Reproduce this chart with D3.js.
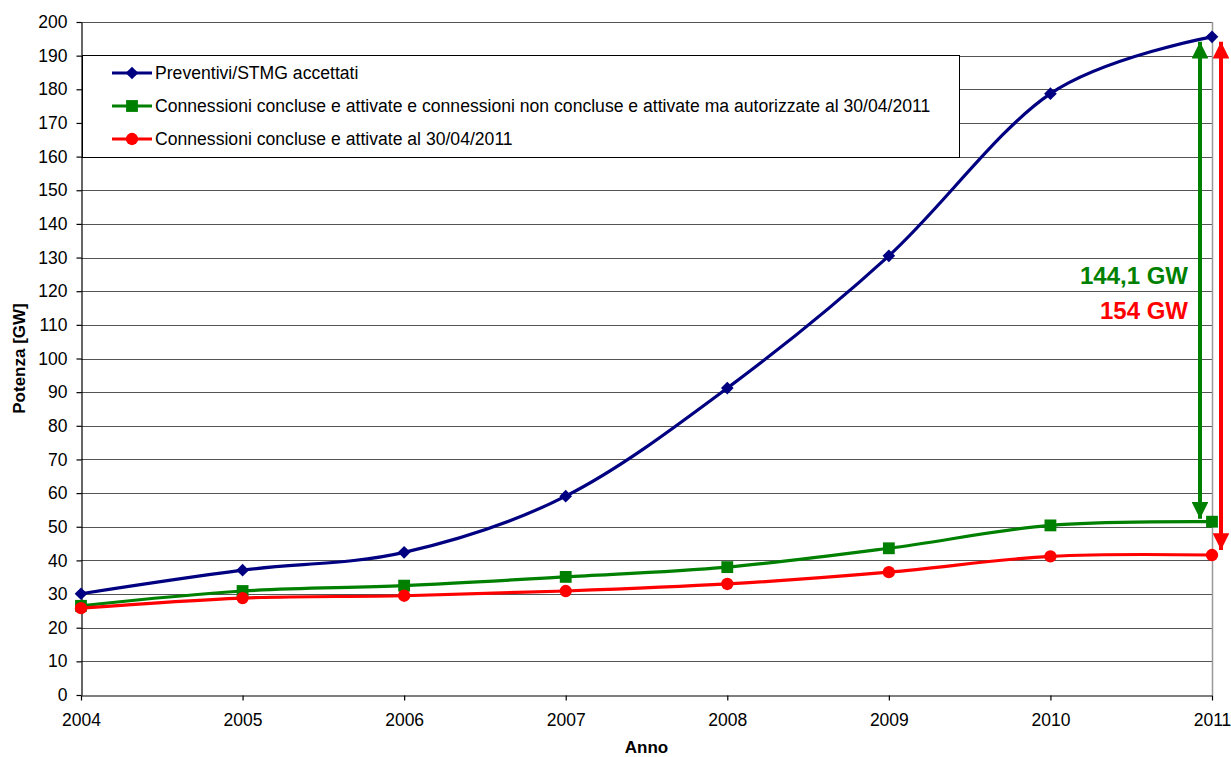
<!doctype html>
<html lang="it">
<head>
  <meta charset="utf-8">
  <title>Potenza</title>
  <style>
    body { margin: 0; background: #fff; }
    text { font-family: Arial, "Liberation Sans", sans-serif; }
  </style>
</head>
<body>
  <div id="chart"></div>
  <script src="https://cdn.jsdelivr.net/npm/d3@7"></script>
  <script>
    // Data ---------------------------------------------------------------------
    const years = [2004, 2005, 2006, 2007, 2008, 2009, 2010, 2011];
    const preventivi = [30.1, 37.1, 42.4, 59.1, 91.2, 130.5, 178.7, 195.6];
    const autorizzate = [26.5, 30.9, 32.5, 35.1, 38.0, 43.6, 50.4, 51.5];
    const attivate = [25.8, 28.8, 29.5, 30.9, 33.0, 36.5, 41.2, 41.6];
    const yTicks = d3.range(0, 201, 10);
    const seriesNames = [
      "Preventivi/STMG accettati",
      "Connessioni concluse e attivate e connessioni non concluse e attivate ma autorizzate al 30/04/2011",
      "Connessioni concluse e attivate al 30/04/2011"
    ];
    const gapGreen = "144,1 GW";
    const gapRed = "154 GW";

    const series = [
      { name: seriesNames[0], values: preventivi, color: "#000080", symbol: d3.symbolSquare, size: 80, rotate: 45 },
      { name: seriesNames[1], values: autorizzate, color: "#008000", symbol: d3.symbolSquare, size: 140, rotate: 0 },
      { name: seriesNames[2], values: attivate, color: "#ff0000", symbol: d3.symbolCircle, size: 120, rotate: 0 }
    ];

    // Layout -------------------------------------------------------------------
    const width = 1231;
    const height = 757;
    const plot = { left: 81, right: 1212, top: 22, bottom: 695 };

    const svg = d3.select("#chart")
      .append("svg")
      .attr("width", width)
      .attr("height", height);

    const x = d3.scaleLinear()
      .domain([2004, 2011])
      .range([plot.left, plot.right]);

    const y = d3.scaleLinear()
      .domain([0, 200])
      .range([plot.bottom, plot.top]);

    // Gridlines ----------------------------------------------------------------
    svg.append("g")
      .selectAll("line")
      .data(yTicks.filter(d => d > 0))
      .enter()
      .append("line")
      .attr("x1", plot.left)
      .attr("x2", plot.right)
      .attr("y1", d => Math.round(y(d)) + 0.5)
      .attr("y2", d => Math.round(y(d)) + 0.5)
      .attr("stroke", "#555")
      .attr("stroke-width", 1);

    svg.append("line")
      .attr("x1", plot.right + 0.5)
      .attr("x2", plot.right + 0.5)
      .attr("y1", plot.top)
      .attr("y2", plot.bottom)
      .attr("stroke", "#999")
      .attr("stroke-width", 1.5);

    // Axes ---------------------------------------------------------------------
    const yAxis = svg.append("g")
      .attr("transform", `translate(${plot.left + 0.5},0)`)
      .call(d3.axisLeft(y).tickValues(yTicks).tickSize(5).tickPadding(9).tickSizeOuter(0));

    const xAxis = svg.append("g")
      .attr("transform", `translate(0,${plot.bottom + 0.5})`)
      .call(d3.axisBottom(x).tickValues(years).tickFormat(d3.format("d")).tickSize(5).tickPadding(13).tickSizeOuter(0));

    [yAxis, xAxis].forEach(g => {
      g.attr("font-size", 17.5);
      g.selectAll("text").attr("fill", "#000");
      g.selectAll("line, path").attr("stroke", "#000").attr("stroke-width", 1.2);
    });

    svg.append("text")
      .attr("transform", `translate(24.5,${(plot.top + plot.bottom) / 2}) rotate(-90)`)
      .attr("text-anchor", "middle")
      .attr("font-size", 17)
      .attr("font-weight", "bold")
      .text("Potenza [GW]");

    svg.append("text")
      .attr("x", (plot.left + plot.right) / 2)
      .attr("y", 753)
      .attr("text-anchor", "middle")
      .attr("font-size", 17)
      .attr("font-weight", "bold")
      .text("Anno");

    // Series -------------------------------------------------------------------
    const line = d3.line()
      .x((d, i) => x(years[i]))
      .y(d => y(d))
      .curve(d3.curveCardinal.tension(0));

    series.forEach(s => {
      svg.append("path")
        .datum(s.values)
        .attr("fill", "none")
        .attr("stroke", s.color)
        .attr("stroke-width", 3.2)
        .attr("d", line);
    });

    series.forEach(s => {
      svg.append("g")
        .selectAll("path")
        .data(s.values)
        .enter()
        .append("path")
        .attr("transform", (d, i) => `translate(${x(years[i])},${y(d)}) rotate(${s.rotate})`)
        .attr("d", d3.symbol().type(s.symbol).size(s.size))
        .attr("fill", s.color);
    });

    // Legend -------------------------------------------------------------------
    const legend = svg.append("g");
    legend.append("rect")
      .attr("x", 82.5)
      .attr("y", 55.5)
      .attr("width", 877)
      .attr("height", 102)
      .attr("fill", "#fff")
      .attr("stroke", "#000")
      .attr("stroke-width", 1);

    series.forEach((s, i) => {
      const ly = 73 + i * 33;
      legend.append("line")
        .attr("x1", 112)
        .attr("x2", 152)
        .attr("y1", ly)
        .attr("y2", ly)
        .attr("stroke", s.color)
        .attr("stroke-width", 3.2);
      legend.append("path")
        .attr("transform", `translate(132,${ly}) rotate(${s.rotate})`)
        .attr("d", d3.symbol().type(s.symbol).size(s.size))
        .attr("fill", s.color);
      legend.append("text")
        .attr("x", 155)
        .attr("y", ly + 6)
        .attr("font-size", 17.6)
        .text(s.name);
    });

    // Gap arrows ---------------------------------------------------------------
    const last = years.length - 1;
    const defs = svg.append("defs");
    [["green", "#008000"], ["red", "#ff0000"]].forEach(([id, c]) => {
      defs.append("marker")
        .attr("id", "head-" + id)
        .attr("viewBox", "0 0 10 10")
        .attr("refX", 10)
        .attr("refY", 5)
        .attr("markerWidth", 4.5)
        .attr("markerHeight", 4.2)
        .attr("markerUnits", "strokeWidth")
        .attr("orient", "auto-start-reverse")
        .append("path")
        .attr("d", "M0,0 L10,5 L0,10 Z")
        .attr("fill", c);
    });

    const xg = x(years[last]) - 12;
    svg.append("line")
      .attr("x1", xg).attr("x2", xg)
      .attr("y1", y(preventivi[last]) + 5)
      .attr("y2", y(autorizzate[last]) - 3)
      .attr("stroke", "#008000")
      .attr("stroke-width", 4)
      .attr("marker-start", "url(#head-green)")
      .attr("marker-end", "url(#head-green)");

    const xr = x(years[last]) + 9;
    svg.append("line")
      .attr("x1", xr).attr("x2", xr)
      .attr("y1", y(preventivi[last]) + 5)
      .attr("y2", y(attivate[last]) - 5)
      .attr("stroke", "#ff0000")
      .attr("stroke-width", 4)
      .attr("marker-start", "url(#head-red)")
      .attr("marker-end", "url(#head-red)");

    svg.append("text")
      .attr("x", 1188)
      .attr("y", 284)
      .attr("text-anchor", "end")
      .attr("font-size", 24)
      .attr("font-weight", "bold")
      .attr("fill", "#008000")
      .text(gapGreen);

    svg.append("text")
      .attr("x", 1188)
      .attr("y", 319)
      .attr("text-anchor", "end")
      .attr("font-size", 24)
      .attr("font-weight", "bold")
      .attr("fill", "#ff0000")
      .text(gapRed);
  </script>
</body>
</html>
